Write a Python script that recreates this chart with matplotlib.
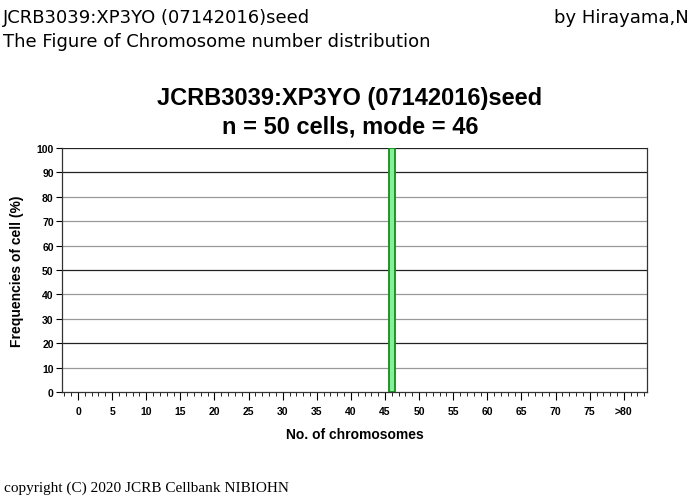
import numpy as np
import matplotlib
matplotlib.use('Agg')
import matplotlib.pyplot as plt
from matplotlib.ticker import MultipleLocator

# data
chrom_number = [46]
freq_pct = [100]
tick_pos = list(range(0, 85, 5))
tick_labels = [str(t) for t in range(0, 80, 5)] + ['>80']
n_cells = 50
mode = 46
sample = 'JCRB3039:XP3YO (07142016)seed'

fig = plt.figure(figsize=(7, 5.02), dpi=100)
W, H = 700, 502

# header texts
hdr = 'DejaVu Sans'
fig.text(3/W, 1-18/H, sample, fontsize=13, family=hdr, va='center', ha='left')
fig.text(3/W, 1-42/H, 'The Figure of Chromosome number distribution', fontsize=13,
         family=hdr, va='center', ha='left')
fig.text(689/W, 1-18/H, 'by Hirayama,N', fontsize=13, family=hdr, va='center', ha='right')
fig.text(4/W, 1-488/H, 'copyright (C) 2020 JCRB Cellbank NIBIOHN', fontsize=11,
         family='Liberation Serif', va='center', ha='left')

# chart title
fig.text(350/W, 1-99/H, sample, fontsize=17, weight='bold', family='Liberation Sans',
         ha='center', va='center')
fig.text(350/W, 1-127/H, 'n = %d cells, mode = %d' % (n_cells, mode), fontsize=17,
         weight='bold', family='Liberation Sans', ha='center', va='center')

ax = fig.add_axes([62/W, 1-393/H, (647-62)/W, (393-149)/H])
ax.bar(chrom_number, freq_pct, width=0.9, color='#7ff29a', edgecolor='#1a8a1a', linewidth=1.3, zorder=3)

ax.set_xlim(-2.35, 83.4)
ax.set_ylim(0, 100)

for y in range(10, 101, 10):
    c = '#222222' if y in (20, 50, 90, 100) else '#999999'
    ax.axhline(y, color=c, linewidth=0.9, zorder=1)

ax.set_xticks(tick_pos)
ax.set_xticklabels(tick_labels)
ax.xaxis.set_minor_locator(MultipleLocator(1))
ax.set_yticks(range(0, 101, 10))

for lab in ax.get_xticklabels() + ax.get_yticklabels():
    lab.set_fontweight('bold')
    lab.set_family('Liberation Sans')
ax.tick_params(axis='x', which='major', length=6, width=0.8, labelsize=7.5, pad=4)
ax.tick_params(axis='x', which='minor', length=3, width=0.6)
ax.tick_params(axis='y', which='major', length=4, width=0.8, labelsize=7.5, pad=2)

ax.spines['top'].set_visible(False)
for s in ['left', 'right', 'bottom']:
    ax.spines[s].set_linewidth(0.9)
    ax.spines[s].set_color('#333333')

ax.set_xlabel('No. of chromosomes', fontsize=10, weight='bold', family='Liberation Sans', labelpad=8)
ax.set_ylabel('Frequencies of cell (%)', fontsize=10, weight='bold', family='Liberation Sans', labelpad=9)

fig.savefig('out.png', dpi=100)
